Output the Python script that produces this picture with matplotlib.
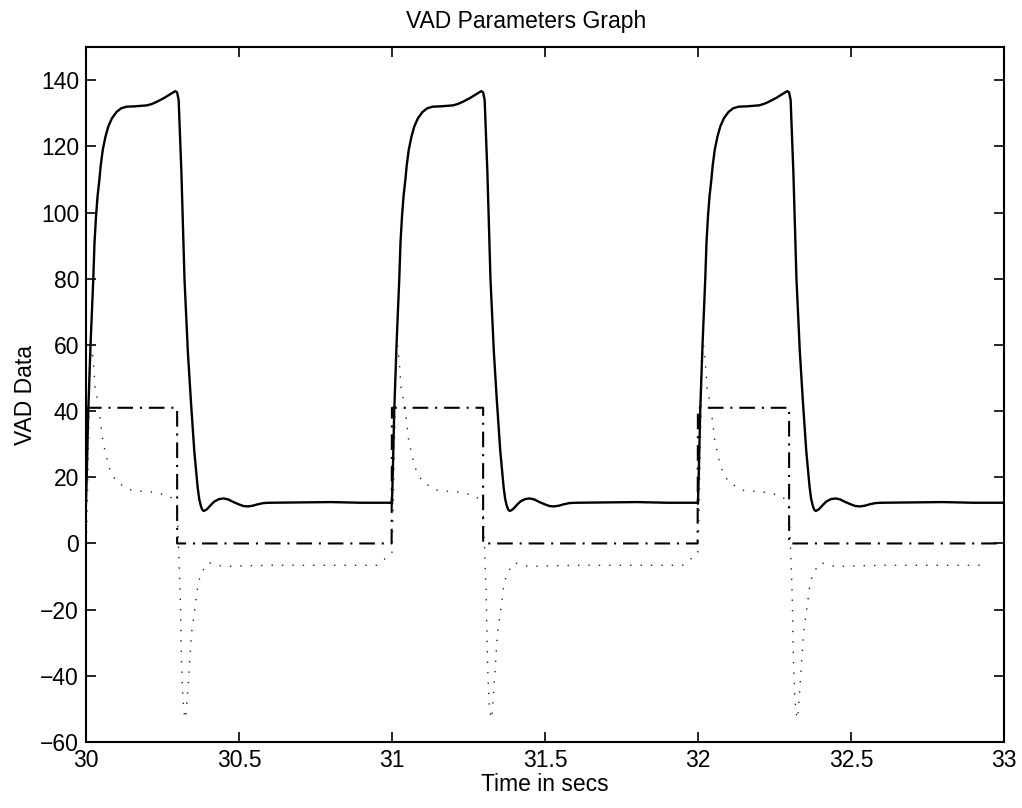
import numpy as np
import matplotlib.pyplot as plt

plt.rcParams['font.family'] = ['Liberation Sans', 'DejaVu Sans']

cycle_starts = [30.0, 31.0, 32.0]

# solid line, time from beat start (s)
pressure_tau = [0.0, 0.003, 0.0075, 0.015, 0.024, 0.028, 0.033, 0.038, 0.044,
                0.048, 0.055, 0.064, 0.073, 0.085, 0.1, 0.115, 0.133, 0.16,
                0.2, 0.215, 0.23, 0.255, 0.28, 0.292, 0.298, 0.303, 0.312,
                0.322, 0.333, 0.343, 0.354, 0.365, 0.37, 0.375, 0.38, 0.385,
                0.395, 0.41, 0.42, 0.435, 0.45, 0.465, 0.48, 0.5, 0.515, 0.53,
                0.545, 0.56, 0.58, 0.6, 0.7, 0.8, 0.9, 1.0]
pressure_val = [12, 22, 40, 60, 80, 91, 99, 105, 110,
                114, 119, 123, 126, 128.5, 130.4, 131.5, 132, 132.1,
                132.4, 132.8, 133.4, 134.6, 136, 136.7, 136.3, 134, 112,
                80, 58, 43, 28, 17, 13.5, 11.5, 10.2, 9.8,
                10.3, 11.8, 12.7, 13.4, 13.6, 13.3, 12.6, 11.8, 11.3, 11.2,
                11.4, 11.8, 12.2, 12.3, 12.4, 12.5, 12.3, 12.3]

# dash-dot line
pump_tau = [0.0, 0.298, 0.298, 0.999]
pump_val = [41, 41, 0, 0]

# dotted line
flow_tau = [0.0, 0.004, 0.008, 0.013, 0.018, 0.024, 0.03, 0.035, 0.04, 0.045,
            0.055, 0.06, 0.075, 0.1, 0.15, 0.21, 0.27, 0.29, 0.297, 0.302,
            0.308, 0.312, 0.316, 0.32, 0.326, 0.333, 0.345, 0.357, 0.366,
            0.376, 0.4, 0.45, 0.5, 0.6, 0.7, 0.8, 0.9, 0.95]
flow_val = [-3, 10, 30, 52, 60, 55, 47, 45, 42, 39,
            31, 29, 23, 18.5, 16, 15.6, 14.5, 13, 12, 0,
            -15, -35, -45, -51, -53, -44, -27, -19, -12.5,
            -9, -5.8, -7, -6.8, -6.6, -6.6, -6.6, -6.6, -6.6]


def place_beats(tau, val):
    t = np.concatenate([s + np.asarray(tau) for s in cycle_starts])
    v = np.tile(val, len(cycle_starts))
    return t, v


fig = plt.figure(figsize=(10.22, 8.08), dpi=100)
ax = fig.add_axes([0.0841, 0.0817, 0.8982, 0.860])

t, v = place_beats(pressure_tau, pressure_val)
ax.plot(t, v, color='black', lw=1.7)
t, v = place_beats(pump_tau, pump_val)
ax.plot(t, v, color='black', lw=1.5, linestyle=(0, (7.5, 3.3, 1, 3.3)))
t, v = place_beats(flow_tau, flow_val)
ax.plot(t, v, color='#222222', lw=1.0, linestyle=(0, (1, 6.5)))

ax.set_xlim(30, 33)
ax.set_ylim(-60, 150)
ax.set_xticks([30, 30.5, 31, 31.5, 32, 32.5, 33])
ax.set_xticklabels(['30', '30.5', '31', '31.5', '32', '32.5', '33'])
ax.set_yticks(np.arange(-60, 141, 20))
ax.tick_params(direction='in', top=True, right=True, length=7, width=1.2,
               labelsize=16.5, pad=5)
for sp in ax.spines.values():
    sp.set_linewidth(1.5)

ax.set_title('VAD Parameters Graph', fontsize=16.5, pad=14, x=0.48)
ax.set_xlabel('Time in secs', fontsize=16.5, labelpad=1)
ax.set_ylabel('VAD Data', fontsize=16.5, labelpad=2)

fig.savefig('out.png', dpi=100)
